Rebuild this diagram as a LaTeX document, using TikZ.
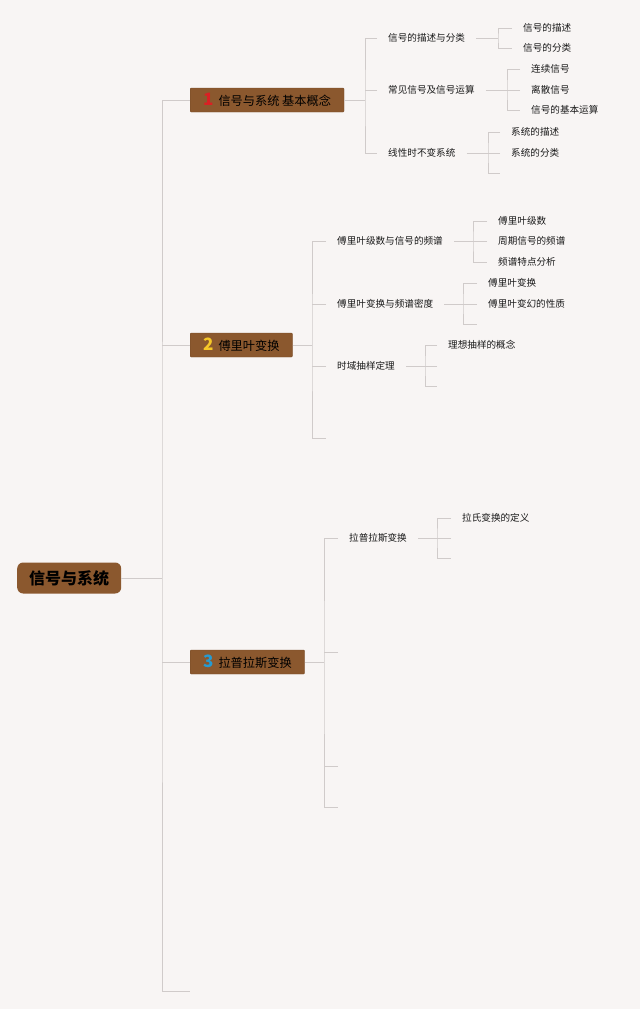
\documentclass[tikz,border=0pt]{standalone}
\usepackage{fontspec}
\newfontfamily\cjk{Noto Sans CJK SC}
\definecolor{paper}{RGB}{248,245,244}
\definecolor{boxbrown}{RGB}{139,88,46}
\definecolor{linegray}{RGB}{208,203,202}
\definecolor{numred}{RGB}{218,32,36}
\definecolor{numyellow}{RGB}{246,200,40}
\definecolor{numblue}{RGB}{38,155,210}
\newcommand{\topicnum}[2]{{\color{#1}\fontsize{17}{17}\selectfont\bfseries #2}\hspace{5pt}}
\tikzset{
	link/.style={draw=linegray, line width=0.9pt},
	root/.style={anchor=west, fill=boxbrown, rounded corners=6pt, minimum height=31pt, inner xsep=12pt, font=\cjk\bfseries\fontsize{16}{16}\selectfont, text=black},
	topic/.style={anchor=west, fill=boxbrown, draw=boxbrown!85!black, line width=0.3pt, rounded corners=1pt, minimum height=24pt, inner xsep=13pt, inner ysep=0pt, font=\cjk\fontsize{12.2}{12}\selectfont, text=black},
	sub/.style={anchor=west, inner xsep=11pt, inner ysep=1pt, font=\cjk\fontsize{9.6}{10}\selectfont, text=black!90},
}
\begin{document}
\begin{tikzpicture}[x=1pt,y=-1pt]
		\fill [paper] (0,0) rectangle (640,1009);
		% root and main trunk
		\node [root] (root) at (17,578) {信号与系统};
		\coordinate (tr) at (162,578);
		\coordinate (b4) at (190,991);
		\node [topic] (b1) at (190,100) {\topicnum{numred}{1}信号与系统 基本概念};
		\node [topic] (b2) at (190,345) {\topicnum{numyellow}{2}傅里叶变换};
		\node [topic] (b3) at (190,662) {\topicnum{numblue}{3}拉普拉斯变换};
		\draw [link] (root.east) -- (tr);
		\draw [link] (b1.west) -| (tr) |- (b4);
		\draw [link] (b2.west) -- (b2.west -| tr);
		\draw [link] (b3.west) -- (b3.west -| tr);
		% branch 1
		\coordinate (s1) at (365,100);
		\node [sub] (a11) at (377,38) {信号的描述与分类};
		\node [sub] (a12) at (377,90) {常见信号及信号运算};
		\node [sub] (a13) at (377,153) {线性时不变系统};
		\draw [link] (b1.east) -- (s1);
		\draw [link] (a11.west) -| (s1) |- (a13.west);
		\draw [link] (a12.west) -- (a12.west -| s1);
		\coordinate (s11) at (498,38);
		\coordinate (s12) at (507,90);
		\coordinate (s13) at (488,153);
		\node [sub] (c111) at (512,28) {信号的描述};
		\node [sub] (c112) at (512,48) {信号的分类};
		\node [sub] (c121) at (520,69) {连续信号};
		\node [sub] (c122) at (520,90) {离散信号};
		\node [sub] (c123) at (520,110) {信号的基本运算};
		\node [sub] (c131) at (500,132) {系统的描述};
		\node [sub] (c132) at (500,153) {系统的分类};
		\coordinate (c133) at (500,173);
		\draw [link] (a11.east) -- (s11);
		\draw [link] (c111.west) -| (s11) |- (c112.west);
		\draw [link] (a12.east) -- (s12);
		\draw [link] (c121.west) -| (s12) |- (c123.west);
		\draw [link] (c122.west) -- (c122.west -| s12);
		\draw [link] (a13.east) -- (s13);
		\draw [link] (c131.west) -| (s13) |- (c133);
		\draw [link] (c132.west) -- (c132.west -| s13);
		% branch 2
		\coordinate (s2) at (312,345);
		\node [sub] (a21) at (326,241) {傅里叶级数与信号的频谱};
		\node [sub] (a22) at (326,304) {傅里叶变换与频谱密度};
		\node [sub] (a23) at (326,366) {时域抽样定理};
		\coordinate (a24) at (326,438);
		\draw [link] (b2.east) -- (s2);
		\draw [link] (a21.west) -| (s2) |- (a24);
		\draw [link] (a22.west) -- (a22.west -| s2);
		\draw [link] (a23.west) -- (a23.west -| s2);
		\coordinate (s21) at (473,241);
		\coordinate (s22) at (463,304);
		\coordinate (s23) at (425,366);
		\node [sub] (c211) at (487,221) {傅里叶级数};
		\node [sub] (c212) at (487,241) {周期信号的频谱};
		\node [sub] (c213) at (487,262) {频谱特点分析};
		\node [sub] (c221) at (477,283) {傅里叶变换};
		\node [sub] (c222) at (477,304) {傅里叶变幻的性质};
		\coordinate (c223) at (477,324);
		\node [sub] (c231) at (437,345) {理想抽样的概念};
		\coordinate (c232) at (437,366);
		\coordinate (c233) at (437,386);
		\draw [link] (a21.east) -- (s21);
		\draw [link] (c211.west) -| (s21) |- (c213.west);
		\draw [link] (c212.west) -- (c212.west -| s21);
		\draw [link] (a22.east) -- (s22);
		\draw [link] (c221.west) -| (s22) |- (c223);
		\draw [link] (c222.west) -- (c222.west -| s22);
		\draw [link] (a23.east) -- (s23);
		\draw [link] (c231.west) -| (s23) |- (c233);
		\draw [link] (c232) -- (c232 -| s23);
		% branch 3
		\coordinate (s3) at (324,662);
		\node [sub] (a31) at (338,538) {拉普拉斯变换};
		\coordinate (a32) at (338,652);
		\coordinate (a33) at (338,766);
		\coordinate (a34) at (338,807);
		\draw [link] (b3.east) -- (s3);
		\draw [link] (a31.west) -| (s3) |- (a34);
		\draw [link] (a32) -- (a32 -| s3);
		\draw [link] (a33) -- (a33 -| s3);
		\coordinate (s31) at (437,538);
		\node [sub] (c311) at (451,518) {拉氏变换的定义};
		\coordinate (c312) at (451,538);
		\coordinate (c313) at (451,558);
		\draw [link] (a31.east) -- (s31);
		\draw [link] (c311.west) -| (s31) |- (c313);
		\draw [link] (c312) -- (c312 -| s31);
\end{tikzpicture}
\end{document}
